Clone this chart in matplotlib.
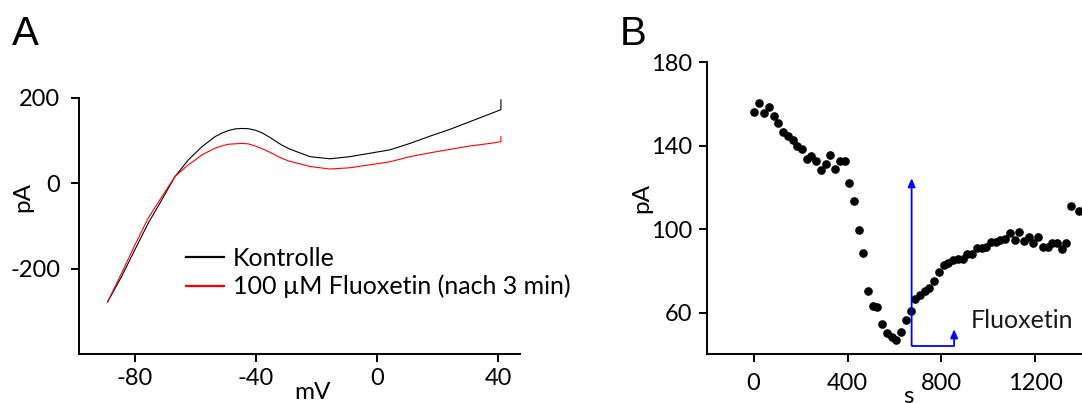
import matplotlib
matplotlib.use('Agg')
import matplotlib.pyplot as plt

plt.rcParams['font.family'] = ['Lato', 'DejaVu Sans']
plt.rcParams['axes.unicode_minus'] = False

# ---------------- Panel A data (I-V curves) ----------------
voltage_mV = [-89, -84.4, -80, -75.6, -71.1, -66.8, -62.4, -60.1, -57.9, -55.7,
              -53.5, -51.3, -49.2, -46.9, -44.7, -42.6, -40.3, -38.1, -35.9, -33.7,
              -31.5, -29.3, -27.1, -22.2, -15.6, -9.0, -2.4, 4.2,
              10.8, 17.4, 24.0, 30.6, 37.2, 40.8, 40.8]
control_pA = [-278, -219, -156, -94, -39, 15, 54, 70, 85, 97,
              109, 117, 123, 127, 128, 127.5, 124, 118, 109, 99,
              89, 81, 75, 62, 57, 62, 70, 78,
              93, 110, 126, 144, 162, 172, 195]
fluoxetine_pA = [-278, -211, -145, -82, -32, 15, 43, 54, 66, 74,
                 82, 87, 91, 92, 93, 92, 87, 81, 74, 66,
                 58, 52, 48, 39, 33, 36, 43, 50,
                 62, 71, 79, 87, 93, 97, 109]
a_xticks = [-80, -40, 0, 40]
a_xticklabels = ['-80', '-40', '0', '40']
a_yticks = [-200, 0, 200]
a_yticklabels = ['-200', '0', '200']
legend_labels = ['Kontrolle', '100 µM Fluoxetin (nach 3 min)']

# ---------------- Panel B data (time course) ----------------
time_s = [3, 25, 45, 66, 86, 106, 126, 146, 167, 187, 207, 226, 246, 266, 287,
          307, 327, 347, 367, 388, 408, 428, 448, 468, 487, 507, 527, 548, 568,
          588, 608, 628, 648, 669, 689, 709, 729, 749, 770, 790, 810, 829, 849,
          871, 890, 910, 930, 950, 971, 991, 1011, 1031, 1051, 1072, 1092, 1112,
          1132, 1152, 1171, 1191, 1211, 1231, 1252, 1272, 1292, 1312, 1332,
          1352, 1386]
current_pA = [156.2, 160.6, 155.9, 158.5, 154.5, 151.1, 146.8, 144.6, 142.8,
              139.9, 138.7, 133.6, 135.1, 132.6, 128.4, 131.3, 135.6, 128.8,
              132.9, 132.9, 122.4, 113.4, 99.7, 88.6, 70.6, 63.2, 62.9, 54.6,
              50.1, 48.5, 46.9, 50.8, 56.5, 61.0, 66.4, 68.5, 70.4, 71.7, 75.4,
              79.7, 82.7, 84.0, 85.3, 85.6, 85.8, 88.0, 88.0, 91.2, 90.9, 91.7,
              93.8, 93.9, 94.9, 95.2, 98.1, 94.9, 98.6, 94.2, 96.2, 93.3, 96.2,
              91.7, 91.7, 93.3, 93.6, 90.4, 93.3, 111.2, 108.9]
b_xticks = [0, 400, 800, 1200]
b_yticks = [60, 100, 140, 180]

# Fluoxetine application marker (s, pA)
fluox_on_s = 673
fluox_off_s = 854
fluox_base_pA = 44.2
fluox_top_pA = 124.5
fluox_small_top_pA = 52.1
fluox_text = 'Fluoxetin'

W, H = 1082, 403
fig = plt.figure(figsize=(W / 100, H / 100), dpi=100)

TICK_FS = 17
LABEL_FS = 17.5
TEXT_FS = 18

# ---------------- Panel A ----------------
axA = fig.add_axes([78.5 / W, (H - 354) / H, 441.5 / W, 256.3 / H])
axA.plot(voltage_mV, control_pA, color='black', lw=0.8, label=legend_labels[0])
axA.plot(voltage_mV, fluoxetine_pA, color='#ff0000', lw=0.8, label=legend_labels[1])
axA.set_xlim(-98.6, 47.1)
axA.set_ylim(-400, 200)
axA.set_xticks(a_xticks)
axA.set_xticklabels(a_xticklabels)
axA.set_yticks(a_yticks)
axA.set_yticklabels(a_yticklabels)
axA.tick_params(axis='both', labelsize=TICK_FS, length=6, width=1.4, direction='out')
axA.tick_params(axis='x', pad=4)
axA.tick_params(axis='y', pad=7)
for s in ['top', 'right']:
    axA.spines[s].set_visible(False)
for s in ['left', 'bottom']:
    axA.spines[s].set_linewidth(1.4)
axA.set_ylabel('pA', fontsize=LABEL_FS)
axA.yaxis.set_label_coords(-0.127, 0.614)
axA.yaxis.label.set_va('center')
axA.set_xlabel('mV', fontsize=LABEL_FS)
axA.xaxis.set_label_coords(0.531, -0.108)
axA.xaxis.label.set_va('top')
leg = axA.legend(loc='center left', bbox_to_anchor=(0.2435, 0.318), frameon=False,
                 fontsize=TEXT_FS, handlelength=1.52, handletextpad=0.36,
                 borderpad=0, borderaxespad=0, labelspacing=0.2)
for ln in leg.get_lines():
    ln.set_linewidth(1.6)

# ---------------- Panel B ----------------
axB = fig.add_axes([707.3 / W, (H - 353.5) / H, (W - 707.3) / W, 291.1 / H])
axB.plot(time_s, current_pA, 'o', color='black', markersize=5.2, clip_on=False)
axB.set_xlim(-197, 1398.5)
axB.set_ylim(40.5, 180)
axB.set_xticks(b_xticks)
axB.set_yticks(b_yticks)
axB.tick_params(axis='both', labelsize=TICK_FS, length=6, width=1.4, direction='out')
axB.tick_params(axis='x', pad=8)
axB.tick_params(axis='y', pad=5)
for s in ['top', 'right']:
    axB.spines[s].set_visible(False)
for s in ['left', 'bottom']:
    axB.spines[s].set_linewidth(1.4)
axB.set_ylabel('pA', fontsize=LABEL_FS)
axB.yaxis.set_label_coords(-0.176, 0.533)
axB.yaxis.label.set_va('center')
axB.set_xlabel('s', fontsize=LABEL_FS)
axB.xaxis.set_label_coords(0.536, -0.112)
axB.xaxis.label.set_va('top')

blue = '#0000ff'
axB.plot([fluox_on_s, fluox_off_s], [fluox_base_pA, fluox_base_pA], color=blue, lw=1.3,
         solid_capstyle='butt')
arrow_kw = dict(arrowstyle='-|>,head_length=0.5,head_width=0.22', color=blue, lw=1.3,
                shrinkA=0, shrinkB=0, mutation_scale=10)
axB.annotate('', xy=(fluox_on_s, fluox_top_pA), xytext=(fluox_on_s, fluox_base_pA),
             arrowprops=arrow_kw)
axB.annotate('', xy=(fluox_off_s, fluox_small_top_pA), xytext=(fluox_off_s, fluox_base_pA),
             arrowprops=arrow_kw)
axB.text(925, 52.5, fluox_text, fontsize=TEXT_FS, ha='left', va='baseline', color='#1a1a1a')

# Panel letters
fig.text(12 / W, (H - 45) / H, 'A', fontsize=29, family='Liberation Sans', va='baseline')
fig.text(620 / W, (H - 45) / H, 'B', fontsize=29, family='Liberation Sans', va='baseline')

fig.savefig('out.png', dpi=100)
